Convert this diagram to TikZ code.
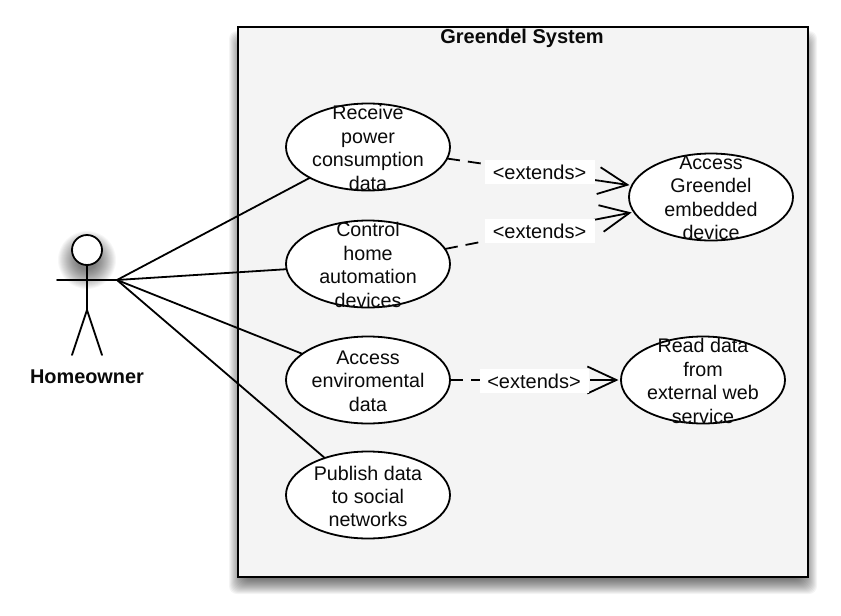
\documentclass[tikz,border=0pt]{standalone}
\usepackage{fontspec}
\setmainfont{Liberation Sans}
\usetikzlibrary{shapes.geometric,arrows.meta}
\definecolor{sysfill}{HTML}{F4F4F4}
\definecolor{inkc}{HTML}{0A0A0A}
\tikzset{
  usecase/.style={draw=black,fill=white,ellipse,line width=1.8pt,minimum width=164pt,minimum height=87pt,inner sep=0pt,outer sep=0pt},
  uctext/.style={align=center,inner sep=0pt,text=inkc,font=\fontsize{19.7}{23.4}\selectfont},
  assoc/.style={line width=1.8pt,draw=black},
  depline/.style={line width=1.8pt,dash pattern=on 13pt off 8pt,draw=black},
  deptip/.style={line width=1.8pt,draw=black,shorten >=2.5pt,-{Straight Barb[length=29pt,width=27pt,line width=1.8pt]}},
  extlabel/.style={fill=white,inner sep=0pt,minimum width=110pt,minimum height=24pt,text=inkc,font=\fontsize{20}{24}\selectfont},
  limb/.style={line width=1.8pt,draw=black,line cap=round}
}
\begin{document}
\begin{tikzpicture}[x=1pt,y=-1pt]
\useasboundingbox (0,0) rectangle (841,616);
\fill[white] (0,0) rectangle (841,616);
% system shadow
\foreach \i in {11,10,...,-11}{
  \fill[black,opacity=0.045,rounded corners=8pt] (240-\i,42-\i) rectangle (806+\i,583+\i);
}
\node[draw=black,fill=sysfill,line width=2.4pt,minimum width=570pt,minimum height=550pt,inner sep=0pt,outer sep=0pt] (sys) at (523,302) {};
\node[inner sep=0pt,font=\fontsize{20}{24}\selectfont\bfseries,text=inkc] (systitle) at (522,38.5) {Greendel System};
% head shadow
\foreach \i in {29,28,...,10}{
  \fill[black,opacity=0.03] (87,260) circle (\i pt);
}
% actor
\node[circle,draw=black,fill=white,line width=1.8pt,minimum size=30pt,inner sep=0pt,outer sep=0pt] (head) at (87,250) {};
\coordinate (hip) at (87,310);
\coordinate (armL) at (57,280);
\coordinate (armR) at (117,280);
\coordinate (footL) at (72,355);
\coordinate (footR) at (102,355);
\draw[limb] (head) -- (hip);
\draw[limb] (armL) -- (armR);
\draw[limb] (footL) -- (hip) -- (footR);
\node[inner sep=0pt,font=\fontsize{19.9}{24}\selectfont\bfseries,text=inkc] (actor) at (87,376.5) {Homeowner};
% use cases
\node[usecase] (recv) at (368,147) {};
\node[usecase] (ctrl) at (368,264) {};
\node[usecase] (envi) at (368,380) {};
\node[usecase] (pub) at (368,495) {};
\node[usecase] (embd) at (711,197) {};
\node[usecase] (web) at (703,380) {};
\node[uctext] (recvt) at (368,148) {Receive\\power\\consumption\\data};
\node[uctext] (ctrlt) at (368,265) {Control\\home\\automation\\devices};
\node[uctext] (envit) at (368,381) {Access\\enviromental\\data};
\node[uctext] (pubt) at (368,496.5) {Publish data\\to social\\networks};
\node[uctext] (embdt) at (711,198) {Access\\Greendel\\embedded\\device};
\node[uctext] (webt) at (703,381) {Read data\\from\\external web\\service};
% associations
\draw[assoc] (armR) -- (recv);
\draw[assoc] (armR) -- (ctrl);
\draw[assoc] (armR) -- (envi);
\draw[assoc] (armR) -- (pub);
% extends
\path (recv) -- coordinate[pos=0.83] (s1) (embd);
\draw[depline] (recv) -- (s1);
\draw[deptip] (s1) -- (embd);
\path (ctrl) -- coordinate[pos=0.83] (s2) (embd);
\draw[depline] (ctrl) -- (s2);
\draw[deptip] (s2) -- (embd);
\path (envi) -- coordinate[pos=0.82] (s3) (web);
\draw[depline] (envi) -- (s3);
\draw[deptip] (s3) -- (web);
\node[extlabel] (l1) at (539.5,172) {<extends>};
\node[extlabel] (l2) at (539.5,231) {<extends>};
\node[extlabel,minimum width=109pt] (l3) at (534,381) {<extends>};
\end{tikzpicture}
\end{document}
